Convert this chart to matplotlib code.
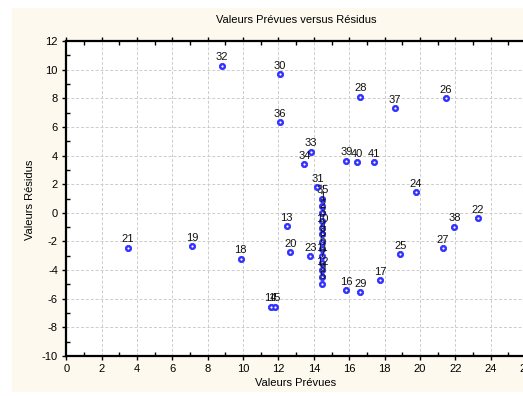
import matplotlib.pyplot as plt
from matplotlib.patches import Rectangle
from matplotlib.ticker import MultipleLocator

plt.rcParams['font.family'] = ['Liberation Sans', 'DejaVu Sans']
plt.rcParams['axes.unicode_minus'] = False

ids = [21, 19, 18, 32, 30, 36, 28, 37, 26, 22, 38, 27, 25, 17, 29, 16, 14, 15,
       13, 20, 23, 34, 33, 39, 40, 41, 24, 31,
       35, 1, 2, 3, 10, 4, 8, 6, 11, 7, 12, 9, 5]
prevues = [3.49, 7.13, 9.86, 8.82, 12.09, 12.09, 16.63, 18.57, 21.48, 23.27, 21.95,
           21.29, 18.89, 17.76, 16.63, 15.84, 11.56, 11.79,
           12.47, 12.67, 13.80, 13.46, 13.82, 15.84, 16.43, 17.42, 19.78, 14.20,
           14.48, 14.48, 14.48, 14.48, 14.48, 14.48, 14.48, 14.48, 14.48, 14.48,
           14.48, 14.48, 14.48]
residus = [-2.45, -2.34, -3.2, 10.27, 9.67, 6.32, 8.11, 7.3, 8.0, -0.38, -0.97,
           -2.48, -2.9, -4.71, -5.55, -5.41, -6.56, -6.56,
           -0.94, -2.76, -3.04, 3.41, 4.25, 3.64, 3.53, 3.53, 1.45, 1.78,
           0.98, 0.5, -0.04, -0.55, -1.04, -1.5, -2.02, -2.5, -3.02, -3.5,
           -4.0, -4.45, -4.99]

fig = plt.figure(figsize=(5.23, 3.96), dpi=100)
fig.patches.append(Rectangle((12 / 523, 4 / 396), 511 / 523, 384 / 396,
                             transform=fig.transFigure, facecolor='#fdf9ee',
                             edgecolor='none', zorder=-10))

ax = fig.add_axes([66.3 / 523, 40 / 396, 459.7 / 523, 315 / 396])
ax.set_xlim(0, 26)
ax.set_ylim(-10, 12)
ax.xaxis.set_major_locator(MultipleLocator(2))
ax.yaxis.set_major_locator(MultipleLocator(2))
ax.xaxis.set_minor_locator(MultipleLocator(1))
ax.yaxis.set_minor_locator(MultipleLocator(1))
ax.grid(True, which='major', linestyle=(0, (3, 2)), color='#cccccc', linewidth=0.7)
ax.set_axisbelow(True)

for s in ['left', 'bottom', 'top']:
    ax.spines[s].set_linewidth(1.6)
ax.spines['right'].set_visible(False)
ax.tick_params(which='major', direction='out', length=3, width=1, labelsize=8, pad=3)
ax.tick_params(which='minor', direction='in', length=3, width=1, top=True)
ax.tick_params(which='major', top=True)

ax.plot(prevues, residus, 'o', color='#3030ff', markersize=4.5, markeredgewidth=0.6,
        zorder=3)
ax.plot(prevues, residus, 'o', color='white', markersize=1.6, markeredgewidth=0,
        zorder=4)
for i, x, y in zip(ids, prevues, residus):
    ax.annotate(str(i), (x, y), xytext=(0, 2.5), textcoords='offset points',
                ha='center', va='bottom', fontsize=8, color='#111111', zorder=5)

fig.text(296 / 523, 1 - 20 / 396, 'Valeurs Prévues versus Résidus', ha='center',
         va='center', fontsize=8)
fig.text(296 / 523, 1 - 383 / 396, 'Valeurs Prévues', ha='center', va='center', fontsize=8)
fig.text(30 / 523, 1 - 200 / 396, 'Valeurs Résidus', ha='center', va='center',
         rotation=90, fontsize=8)

fig.savefig('out.png', dpi=100)
